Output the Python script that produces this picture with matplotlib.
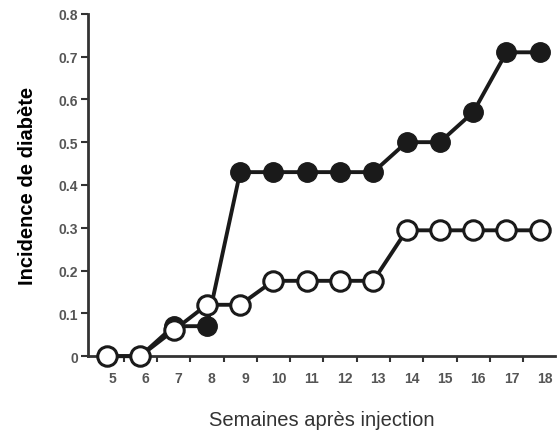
import matplotlib
matplotlib.use("Agg")
import matplotlib.pyplot as plt
import matplotlib.transforms as mtransforms
import numpy as np

weeks = [5, 6, 7, 8, 9, 10, 11, 12, 13, 14, 15, 16, 17, 18]
filled = [0, 0, 0.07, 0.07, 0.43, 0.43, 0.43, 0.43, 0.43, 0.50, 0.50, 0.57, 0.71, 0.71]
hollow = [0, 0, 0.06, 0.12, 0.12, 0.176, 0.176, 0.176, 0.176, 0.294, 0.294, 0.294, 0.294, 0.294]
yticks = [0, 0.1, 0.2, 0.3, 0.4, 0.5, 0.6, 0.7, 0.8]
ytick_labels = ["0", "0.1", "0.2", "0.3", "0.4", "0.5", "0.6", "0.7", "0.8"]

plt.rcParams['font.family'] = ['Liberation Sans', 'DejaVu Sans']

fig = plt.figure(figsize=(5.57, 4.35), dpi=100)
ax = fig.add_axes([0.158, 0.179, 0.838, 0.787])

ax.plot(weeks, filled, color='#1a1a1a', lw=2.8, marker='o', ms=14,
        mfc='#1a1a1a', mec='#1a1a1a', zorder=3, clip_on=False)
ax.plot(weeks, hollow, color='#1a1a1a', lw=2.8, marker='o', ms=14,
        mfc='white', mec='#1a1a1a', mew=2.2, zorder=4, clip_on=False)

ax.set_xlim(4.43, 18.45)
ax.set_ylim(0, 0.8)

ax.set_yticks(yticks)
ax.set_yticklabels(ytick_labels)
ax.set_xticks(weeks)
ax.set_xticklabels([str(w) for w in weeks])
ax.set_xticks([w + 0.5 for w in weeks[:-1]], minor=True)

ax.tick_params(axis='x', which='major', length=0, pad=11, labelsize=10, labelcolor='#555555')
ax.tick_params(axis='x', which='minor', length=4, width=1.5, color='#333333', direction='out')
ax.tick_params(axis='y', which='major', length=5, width=1.5, color='#333333', direction='out',
               labelsize=10, labelcolor='#555555', pad=2)

offset = mtransforms.ScaledTranslation(5 / 100, 0, fig.dpi_scale_trans)
for lbl in ax.get_xticklabels():
    lbl.set_transform(lbl.get_transform() + offset)
    lbl.set_fontweight('bold')
for lbl in ax.get_yticklabels():
    lbl.set_fontweight('bold')

for s in ['top', 'right']:
    ax.spines[s].set_visible(False)
for s in ['left', 'bottom']:
    ax.spines[s].set_linewidth(2)
    ax.spines[s].set_color('#333333')

ax.set_ylabel('Incidence de diabète', fontsize=14.5, fontweight='bold', labelpad=16)
ax.set_xlabel('Semaines après injection', fontsize=14.5, color='#333333', labelpad=18)

fig.savefig('out.png', dpi=100)
